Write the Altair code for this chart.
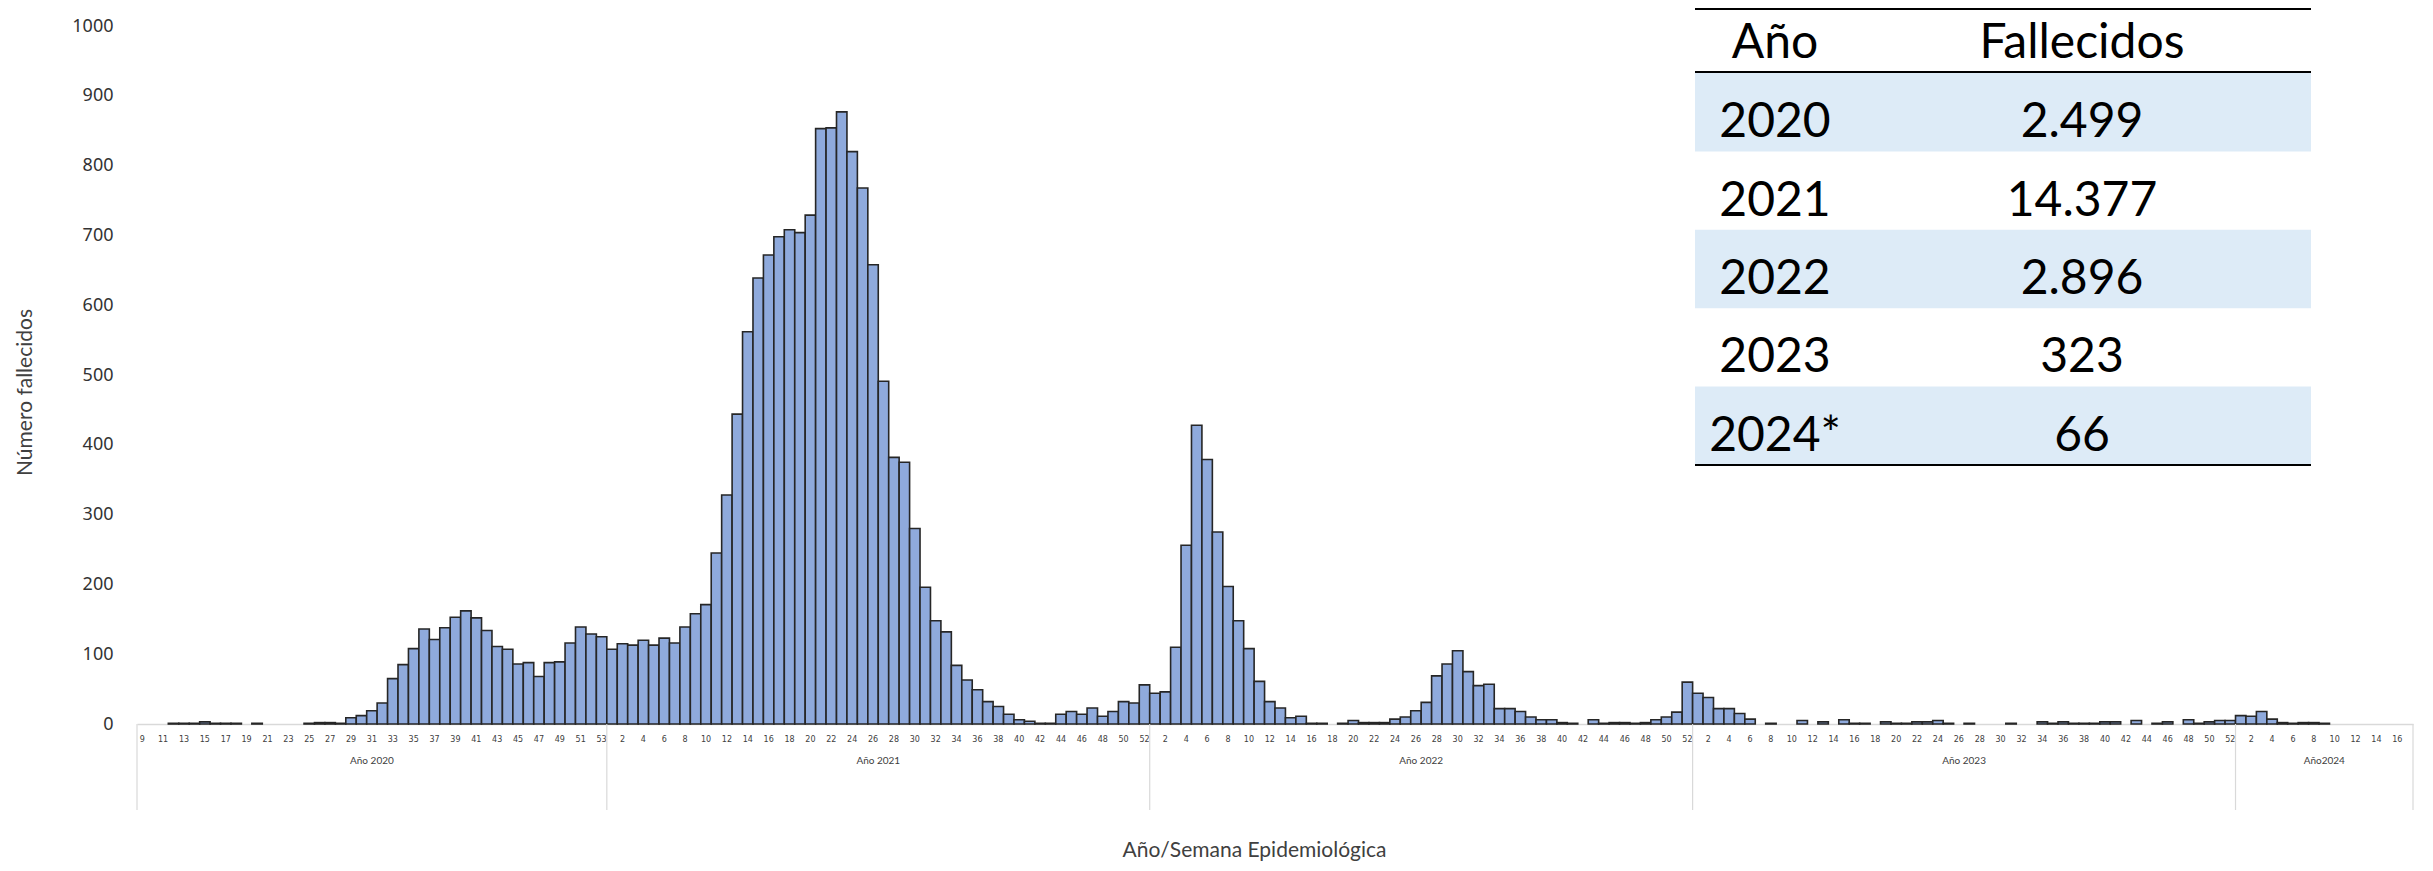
import altair as alt
import pandas as pd

# ---------------- data ----------------
weeks_2020 = list(range(9, 54))
deaths_2020 = [0, 0, 0, 1, 1, 1, 3, 1, 1, 1,
               0, 1, 0, 0, 0, 0, 1, 2, 2, 1,
               9, 12, 19, 30, 65, 85, 108, 136, 121, 138,
               153, 162, 152, 134, 111, 107, 86, 88, 68, 88,
               89, 116, 139, 129, 125]

weeks_2021 = list(range(1, 53))
deaths_2021 = [107, 115, 113, 120, 113, 123, 116, 139, 158, 171,
               245, 328, 444, 562, 639, 672, 698, 708, 704, 729,
               853, 854, 877, 820, 768, 658, 491, 382, 375, 280,
               196, 148, 132, 84, 63, 49, 32, 25, 14, 6,
               4, 1, 1, 14, 18, 14, 23, 11, 18, 32,
               30, 56]

weeks_2022 = list(range(1, 53))
deaths_2022 = [44, 46, 110, 256, 428, 379, 275, 197, 148, 108,
               61, 32, 23, 9, 11, 1, 1, 0, 1, 5,
               2, 2, 2, 7, 10, 19, 31, 69, 86, 105,
               75, 55, 57, 22, 22, 18, 10, 6, 6, 2,
               1, 0, 6, 1, 2, 2, 1, 2, 6, 10,
               17, 60]

weeks_2023 = list(range(1, 53))
deaths_2023 = [44, 38, 22, 22, 15, 7, 0, 1, 0, 0,
               5, 0, 3, 0, 6, 1, 1, 0, 3, 1,
               1, 3, 3, 5, 1, 0, 1, 0, 0, 0,
               1, 0, 0, 3, 1, 3, 1, 1, 1, 3,
               3, 0, 5, 0, 1, 3, 0, 6, 1, 3,
               5, 5]

weeks_2024 = list(range(1, 18))
deaths_2024 = [12, 11, 18, 7, 2, 1, 2, 2, 1, 0,
               0, 0, 0, 0, 0, 0, 0]

years = ["2020", "2021", "2022", "2023", "2024"]
year_labels = ["Año 2020", "Año 2021", "Año 2022", "Año 2023", "Año2024"]

table_header = ["Año", "Fallecidos"]
table_years = ["2020", "2021", "2022", "2023", "2024*"]
table_deaths = ["2.499", "14.377", "2.896", "323", "66"]

# ---------------- build tables ----------------
week_lists = [weeks_2020, weeks_2021, weeks_2022, weeks_2023, weeks_2024]
death_lists = [deaths_2020, deaths_2021, deaths_2022, deaths_2023, deaths_2024]

records = []
year_rows = []
i = 0
for y, lab, wk, dv in zip(years, year_labels, week_lists, death_lists):
    start = i
    for w, d in zip(wk, dv):
        records.append({"key": f"{i:03d}|{w}", "year": y, "week": w, "deaths": d})
        i += 1
    n = len(wk)
    year_rows.append({"year": y, "label": lab, "n": n, "start": start})
df = pd.DataFrame(records)
keys = df["key"].tolist()
label_keys = keys[::2]

yr = pd.DataFrame(year_rows)
yr["start_key"] = [keys[s] for s in yr["start"]]
yr["mid_key"] = [keys[s + n // 2] for s, n in zip(yr["start"], yr["n"])]
yr["even"] = [n % 2 == 0 for n in yr["n"]]
end_df = pd.DataFrame({"key": [keys[-1]]})

head = pd.DataFrame({"row": ["hdr"], "c1": [table_header[0]], "c2": [table_header[1]]})
body = pd.DataFrame({
    "row": table_years,
    "c1": table_years,
    "c2": table_deaths,
    "shade": [k % 2 == 0 for k in range(len(table_years))],
})

# ---------------- layout constants ----------------
W, H = 2276, 698
FILL = "#8FAADC"
EDGE = "#262626"
TXT = "#404040"

xscale = alt.Scale(domain=keys, paddingInner=0, paddingOuter=0)
xaxis = alt.Axis(values=label_keys, labelExpr="substring(datum.value, 4)",
                 labelAngle=0, labelFont="DejaVu Sans", labelFontSize=8,
                 labelColor=TXT, labelPadding=11, ticks=False,
                 domainColor="#D9D9D9", domainWidth=1.5, grid=False,
                 labelOverlap=False,
                 title="Año/Semana Epidemiológica", titleFont="Lato",
                 titleFontSize=21, titleFontWeight="normal", titleColor=TXT,
                 titleX=1117, titleY=126, titleBaseline="middle")

bars = alt.Chart(df).mark_bar(fill=FILL, stroke=EDGE, strokeWidth=1.6).encode(
    x=alt.X("key:N", scale=xscale, axis=xaxis),
    y=alt.Y("deaths:Q",
            scale=alt.Scale(domain=[0, 1000], nice=False),
            axis=alt.Axis(values=list(range(0, 1001, 100)), format="d",
                          grid=False, domain=False, ticks=False,
                          labelFont="Noto Sans", labelFontSize=18,
                          labelColor="#333333", labelPadding=24,
                          title="Número fallecidos", titleFont="Lato",
                          titleFontSize=21, titleFontWeight="normal",
                          titleColor=TXT, titleX=-112, titleY=366,
                          titleBaseline="middle")),
).transform_filter("datum.deaths > 0")

sep = alt.Chart(yr).mark_rule(color="#D9D9D9", strokeWidth=1.2).encode(
    x=alt.X("start_key:N", scale=xscale, axis=xaxis, bandPosition=0),
    y=alt.value(H), y2=alt.value(H + 86),
)
sep_end = alt.Chart(end_df).mark_rule(color="#D9D9D9", strokeWidth=1.2).encode(
    x=alt.X("key:N", scale=xscale, axis=xaxis, bandPosition=1),
    y=alt.value(H), y2=alt.value(H + 86),
)

ylab_style = dict(font="Lato", fontSize=10, color=TXT, align="center", baseline="middle")
ylab_even = alt.Chart(yr).mark_text(**ylab_style).encode(
    x=alt.X("mid_key:N", scale=xscale, axis=xaxis, bandPosition=0),
    y=alt.value(H + 37), text="label:N",
).transform_filter("datum.even")
ylab_odd = alt.Chart(yr).mark_text(**ylab_style).encode(
    x=alt.X("mid_key:N", scale=xscale, axis=xaxis, bandPosition=0.5),
    y=alt.value(H + 37), text="label:N",
).transform_filter("!datum.even")

# ---------------- table ----------------
TX0, TX1 = 1558, 2174
C1X, C2X = 1638, 1945

def hscale():
    return alt.Scale(domain=["hdr"], range=[-17, 46], paddingInner=0, paddingOuter=0)

def bscale():
    return alt.Scale(domain=table_years, range=[47, 439], paddingInner=0, paddingOuter=0)

t_rect = alt.Chart(body).mark_rect(color="#DDEBF7").encode(
    x=alt.value(TX0), x2=alt.value(TX1),
    y=alt.Y("row:N", scale=bscale(), axis=None),
).transform_filter("datum.shade")

txt_style = dict(font="Lato", fontSize=48, color="black", align="center", baseline="middle")
h_c1 = alt.Chart(head).mark_text(dy=3, **txt_style).encode(
    x=alt.value(C1X), y=alt.Y("row:N", scale=hscale(), axis=None), text="c1:N")
h_c2 = alt.Chart(head).mark_text(dy=3, **txt_style).encode(
    x=alt.value(C2X), y=alt.Y("row:N", scale=hscale(), axis=None), text="c2:N")
b_c1 = alt.Chart(body).mark_text(dy=11, **txt_style).encode(
    x=alt.value(C1X), y=alt.Y("row:N", scale=bscale(), axis=None), text="c1:N")
b_c2 = alt.Chart(body).mark_text(dy=11, **txt_style).encode(
    x=alt.value(C2X), y=alt.Y("row:N", scale=bscale(), axis=None), text="c2:N")

t_top = alt.Chart(head).mark_rule(color="black", strokeWidth=2).encode(
    x=alt.value(TX0), x2=alt.value(TX1),
    y=alt.Y("row:N", scale=hscale(), axis=None, bandPosition=0),
)
t_mid = alt.Chart(head).mark_rule(color="black", strokeWidth=2).encode(
    x=alt.value(TX0), x2=alt.value(TX1),
    y=alt.Y("row:N", scale=hscale(), axis=None, bandPosition=1),
)
t_bot = alt.Chart(body).mark_rule(color="black", strokeWidth=2).encode(
    x=alt.value(TX0), x2=alt.value(TX1),
    y=alt.Y("row:N", scale=bscale(), axis=None, bandPosition=1),
).transform_filter("datum.row == '2024*'")

chart = alt.layer(
    bars, sep, sep_end, ylab_even, ylab_odd,
    t_rect, h_c1, h_c2, b_c1, b_c2, t_top, t_mid, t_bot
).resolve_scale(y="independent").properties(
    width=W, height=H,
    autosize=alt.AutoSizeParams(type="none"),
    padding={"left": 129, "top": 18, "right": 12, "bottom": 139},
).configure_view(stroke=None)

chart.save("out.html", embed_options={"renderer": "svg", "actions": False})
